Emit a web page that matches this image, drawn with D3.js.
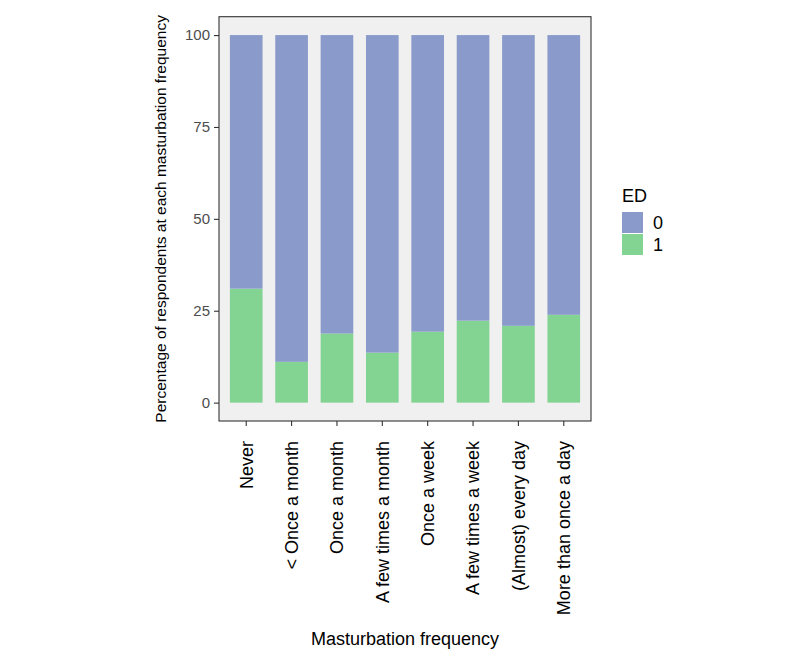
<!DOCTYPE html>
<html>
<head>
<meta charset="utf-8">
<script src="https://cdn.jsdelivr.net/npm/d3@7"></script>
<style>
  body { margin: 0; background: #fff; }
  svg { display: block; font-family: "Liberation Sans", Arial, sans-serif; }
</style>
</head>
<body>
<svg id="chart" width="800" height="656"></svg>
<script>
// ---- data ----
const categories = ["Never", "< Once a month", "Once a month", "A few times a month",
  "Once a week", "A few times a week", "(Almost) every day", "More than once a day"];
const ed1 = [31.0, 11.1, 18.8, 13.6, 19.3, 22.3, 20.9, 23.9];
const ed0 = ed1.map(v => 100 - v);
const seriesKeys = ["0", "1"];
const seriesColors = ["#8A9BCB", "#83D392"];
const yTicks = [0, 25, 50, 75, 100];

// ---- layout ----
const svg = d3.select("#chart");
const panel = { left: 219, right: 591, top: 16.7, bottom: 421 };
const n = categories.length;
const step = (panel.right - panel.left) / (n - 1 + 1.2);

const x = d3.scaleBand()
  .domain(categories)
  .range([panel.left + 0.6 * step - step / 2, panel.right - 0.6 * step + step / 2])
  .paddingInner(0.28).paddingOuter(0.14);

const y = d3.scaleLinear().domain([-5, 105]).range([panel.bottom, panel.top]);

// panel background
svg.append("rect")
  .attr("x", panel.left).attr("y", panel.top)
  .attr("width", panel.right - panel.left).attr("height", panel.bottom - panel.top)
  .attr("fill", "#F0F0F0");

// stacked bars
const rows = categories.map((c, i) => ({ cat: c, "1": ed1[i], "0": ed0[i] }));
const stack = d3.stack().keys(["1", "0"])(rows);
const color = d3.scaleOrdinal().domain(seriesKeys).range(seriesColors);

svg.append("g").selectAll("g").data(stack).join("g")
  .attr("fill", d => color(d.key))
  .selectAll("rect").data(d => d).join("rect")
  .attr("x", d => x(d.data.cat))
  .attr("width", x.bandwidth())
  .attr("y", d => y(d[1]))
  .attr("height", d => y(d[0]) - y(d[1]));

// panel border
svg.append("rect")
  .attr("x", panel.left).attr("y", panel.top)
  .attr("width", panel.right - panel.left).attr("height", panel.bottom - panel.top)
  .attr("fill", "none").attr("stroke", "#333").attr("stroke-width", 1.1);

// y axis
const yAxis = svg.append("g")
  .attr("transform", `translate(${panel.left},0)`)
  .call(d3.axisLeft(y).tickValues(yTicks).tickSize(5).tickPadding(4));
yAxis.select(".domain").remove();
yAxis.selectAll(".tick line").attr("stroke", "#333").attr("stroke-width", 1.1);
yAxis.selectAll(".tick text").attr("fill", "#4D4D4D")
  .style("font-size", "15px").style("font-family", "'Liberation Sans', Arial, sans-serif");

// x axis
const xAxis = svg.append("g")
  .attr("transform", `translate(0,${panel.bottom})`)
  .call(d3.axisBottom(x).tickSize(5).tickPadding(0));
xAxis.select(".domain").remove();
xAxis.selectAll(".tick line").attr("stroke", "#333").attr("stroke-width", 1.1);
xAxis.selectAll(".tick text")
  .attr("fill", "#000")
  .style("font-size", "18px").style("font-family", "'Liberation Sans', Arial, sans-serif")
  .attr("transform", "rotate(-90)")
  .attr("text-anchor", "end")
  .attr("x", -20).attr("y", 0).attr("dy", "0.35em");

// axis titles
svg.append("text")
  .attr("x", (panel.left + panel.right) / 2).attr("y", 645)
  .attr("text-anchor", "middle")
  .style("font-size", "18px").attr("fill", "#000")
  .text("Masturbation frequency");

svg.append("text")
  .attr("transform", `translate(166,${(panel.top + panel.bottom) / 2}) rotate(-90)`)
  .attr("text-anchor", "middle")
  .style("font-size", "15.5px").attr("fill", "#000")
  .text("Percentage of respondents at each masturbation frequency");

// legend
const lg = svg.append("g").attr("transform", "translate(622,195)");
lg.append("text").attr("x", 0).attr("y", 7).style("font-size", "18px").attr("fill", "#000").text("ED");
seriesKeys.forEach((k, i) => {
  lg.append("rect").attr("x", 0).attr("y", 17 + i * 22).attr("width", 21).attr("height", 21)
    .attr("fill", color(k));
  lg.append("text").attr("x", 31).attr("y", 17 + i * 22 + 17)
    .style("font-size", "18px").attr("fill", "#000").text(k);
});
</script>
</body>
</html>
